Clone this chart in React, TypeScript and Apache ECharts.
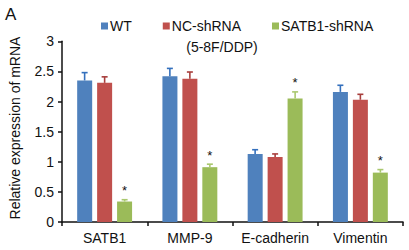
import React, { useEffect, useRef } from "react";
import * as echarts from "echarts";

const categories = ["SATB1", "MMP-9", "E-cadherin", "Vimentin"];
const seriesNames = ["WT", "NC-shRNA", "SATB1-shRNA"];
const wtValues = [2.35, 2.42, 1.13, 2.16];
const wtErrors = [0.13, 0.13, 0.07, 0.11];
const ncValues = [2.31, 2.38, 1.08, 2.03];
const ncErrors = [0.1, 0.11, 0.05, 0.09];
const kdValues = [0.34, 0.91, 2.05, 0.82];
const kdErrors = [0.03, 0.05, 0.11, 0.05];
const yTicks = [0, 0.5, 1, 1.5, 2, 2.5, 3];

const barColors = ["#4f81bd", "#c0504d", "#9bbb59"];
const errColors = ["#3470bd", "#a83e3c", "#aac86f"];

export default function App() {
  const ref = useRef<HTMLDivElement>(null);
  useEffect(() => {
    if (!ref.current) return;
    const chart = echarts.init(ref.current, null, { renderer: "svg" });
    const font = "Arial, 'Liberation Sans', sans-serif";
    const values = [wtValues, ncValues, kdValues];
    const errors = [wtErrors, ncErrors, kdErrors];
    const offsets = [-20, 0, 20];

    const barSeries = seriesNames.map((name, i) => ({
      name,
      type: "bar",
      data: values[i],
      barWidth: 15,
      barGap: "33%",
      itemStyle: { color: barColors[i] },
      z: 2,
    }));

    const errSeries = seriesNames.map((name, i) => ({
      name: name + "-err",
      type: "custom",
      z: 3,
      data: values[i].map((v, j) => [j, v, errors[i][j]]),
      encode: { x: 0, y: 1 },
      renderItem: (params: any, api: any) => {
        const c = api.value(0);
        const v = api.value(1);
        const e = api.value(2);
        const base = api.coord([c, v]);
        const top = api.coord([c, v + e]);
        const x = base[0] + offsets[i];
        const children: any[] = [
          {
            type: "line",
            shape: { x1: x, y1: base[1], x2: x, y2: top[1] },
            style: { stroke: errColors[i], lineWidth: 1.6 },
          },
          {
            type: "line",
            shape: { x1: x - 3, y1: top[1], x2: x + 3, y2: top[1] },
            style: { stroke: errColors[i], lineWidth: 1.6 },
          },
        ];
        if (i === 2) {
          children.push({
            type: "text",
            style: {
              text: "*",
              x: x,
              y: top[1] - 9,
              textAlign: "center",
              textVerticalAlign: "middle",
              fontSize: 13,
              fontFamily: font,
              fill: "#111",
            },
          });
        }
        return { type: "group", children };
      },
    }));

    chart.setOption({
      animation: false,
      textStyle: { fontFamily: font },
      grid: { left: 62, right: 6, top: 41.3, bottom: 28, containLabel: false },
      legend: {
        data: seriesNames,
        left: 96,
        top: 14,
        icon: "rect",
        itemWidth: 7,
        itemHeight: 7,
        itemGap: 31,
        textStyle: { fontSize: 14, color: "#111", fontFamily: font, padding: [0, 0, 0, -3] },
        selectedMode: false,
      },
      graphic: [
        {
          type: "text",
          left: 5,
          top: 6,
          style: { text: "A", fontSize: 17, fontFamily: font, fill: "#111" },
        },
        {
          type: "text",
          x: 222,
          y: 47,
          style: {
            text: "(5-8F/DDP)",
            fontSize: 14,
            fontFamily: font,
            fill: "#111",
            textAlign: "center",
            textVerticalAlign: "middle",
          },
        },
        {
          type: "text",
          x: 15,
          y: 128,
          rotation: Math.PI / 2,
          style: {
            text: "Relative expression of mRNA",
            fontSize: 14,
            fontFamily: font,
            fill: "#111",
            textAlign: "center",
            textVerticalAlign: "middle",
          },
        },
      ],
      xAxis: {
        type: "category",
        data: categories,
        boundaryGap: true,
        axisLine: { lineStyle: { color: "#111", width: 1.5 } },
        axisTick: { show: true, length: 4, lineStyle: { color: "#111", width: 1.5 } },
        axisLabel: { fontSize: 14, color: "#111", margin: 9, fontFamily: font, interval: 0 },
      },
      yAxis: {
        type: "value",
        min: yTicks[0],
        max: yTicks[yTicks.length - 1],
        interval: 0.5,
        axisLine: { show: true, lineStyle: { color: "#111", width: 1.5 } },
        axisTick: { show: true, length: 4, lineStyle: { color: "#111", width: 1.5 } },
        splitLine: { show: false },
        axisLabel: { fontSize: 14, color: "#111", margin: 8, fontFamily: font },
      },
      series: [...barSeries, ...errSeries],
    });
    return () => chart.dispose();
  }, []);
  return (
    <div
      ref={ref}
      style={{ position: "fixed", left: 0, top: 0, width: 409, height: 250, background: "#fff" }}
    />
  );
}
